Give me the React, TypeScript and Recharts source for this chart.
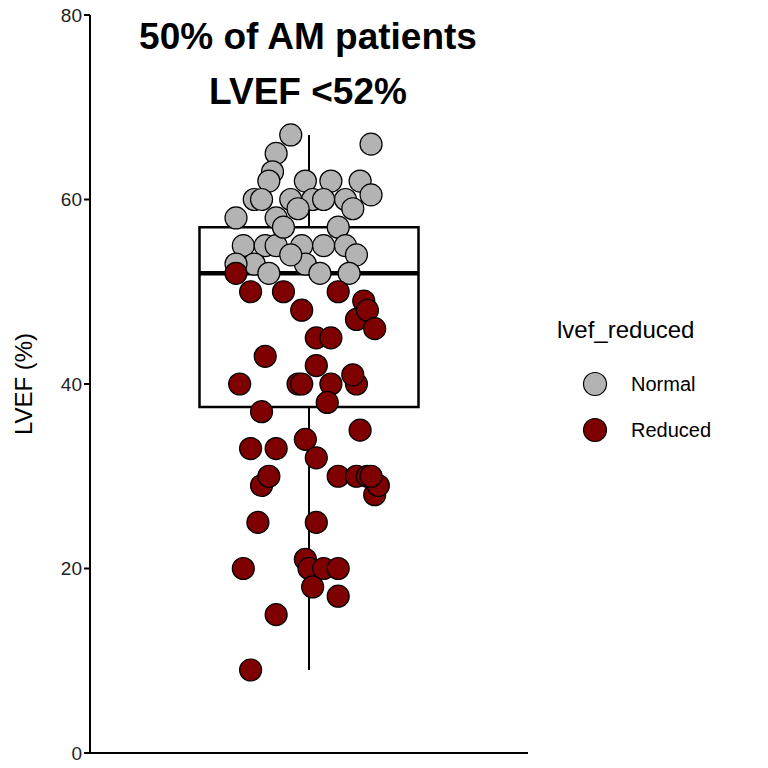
import React from "react";
import {
  ScatterChart,
  Scatter,
  XAxis,
  YAxis,
  ReferenceArea,
  ReferenceLine,
} from "recharts";

// jittered x positions (group centre = 1) and LVEF values
const normalX = [0.95, 1.17, 0.91, 0.9, 0.99, 1.06, 1.14, 0.89, 0.85, 0.87, 0.95, 1.01, 1.1, 1.17, 0.97, 1.12, 1.04, 0.8, 0.91, 1.08, 0.82, 0.88, 0.91, 0.98, 1.04, 1.1, 0.85, 0.8, 0.99, 0.95, 1.13, 0.89, 1.03, 1.11, 0.93];
const normalY = [67, 66, 65, 63, 62, 62, 62, 62, 60, 60, 60, 60, 60, 60.5, 59, 59, 60, 58, 58, 57, 55, 55, 55, 55, 55, 55, 53, 53, 53, 54, 54, 52, 52, 52, 57];

const reducedX = [0.84, 0.91, 0.82, 0.86, 0.87, 0.89, 0.84, 0.91, 0.87, 0.81, 0.88, 0.99, 1.02, 1.02, 0.99, 1.0, 1.01, 1.04, 1.08, 1.08, 1.08, 1.13, 1.16, 1.18, 1.19, 1.17, 1.14, 1.13, 1.12, 1.06, 1.05, 1.02, 1.06, 1.02, 0.97, 0.98, 1.08, 1.15, 1.13, 1.16, 1.18, 0.98, 0.93, 0.84, 0.8];
const reducedY = [9, 15, 20, 25, 29, 30, 33, 33, 37, 40, 43, 34, 32, 25, 21, 20, 18, 20, 20, 17, 30, 30, 30, 28, 29, 30, 35, 40, 41, 40, 38, 45, 45, 42, 40, 40, 50, 49, 47, 48, 46, 48, 50, 50, 52];

const yTicks = [0, 20, 40, 60, 80];
const boxStats = { min: 9, q1: 37.5, median: 52, q3: 57, max: 67 };

const normalData = normalX.map((x, i) => ({ x, y: normalY[i] }));
const reducedData = reducedX.map((x, i) => ({ x, y: reducedY[i] }));

const COLORS = { Normal: "#b3b3b3", Reduced: "#7f0000" };
const font = "'Liberation Sans', Arial, sans-serif";

const Dot = (props: any) => {
  const { cx, cy, fill } = props;
  return <circle cx={cx} cy={cy} r={11} fill={fill} stroke="#000" strokeWidth={1.2} />;
};

export default function App() {
  return (
    <div style={{ position: "absolute", left: 0, top: 0, width: 768, height: 768, fontFamily: font, background: "#fff" }}>
      <ScatterChart width={768} height={768} margin={{ top: 15, right: 240, left: 28, bottom: 15 }}>
        <XAxis type="number" dataKey="x" domain={[0.4, 1.6]} tick={false} tickLine={false} axisLine={false} height={0} />
        <YAxis
          type="number"
          dataKey="y"
          domain={[0, 80]}
          ticks={yTicks}
          width={62}
          stroke="#000"
          strokeWidth={2}
          tickSize={6}
          tick={{ fontSize: 19, fill: "#222", fontFamily: font }}
        />
        <ReferenceLine y={0} stroke="#000" strokeWidth={2} />
        <ReferenceLine segment={[{ x: 1, y: boxStats.min }, { x: 1, y: boxStats.q1 }]} stroke="#000" strokeWidth={2} />
        <ReferenceLine segment={[{ x: 1, y: boxStats.q3 }, { x: 1, y: boxStats.max }]} stroke="#000" strokeWidth={2} />
        <ReferenceArea x1={0.7} x2={1.3} y1={boxStats.q1} y2={boxStats.q3} fill="#fff" fillOpacity={1} stroke="#000" strokeWidth={2.5} />
        <ReferenceLine segment={[{ x: 0.7, y: boxStats.median }, { x: 1.3, y: boxStats.median }]} stroke="#000" strokeWidth={4.5} />
        <Scatter data={normalData} fill={COLORS.Normal} shape={<Dot />} isAnimationActive={false} />
        <Scatter data={reducedData} fill={COLORS.Reduced} shape={<Dot />} isAnimationActive={false} />
      </ScatterChart>
      <div style={{ position: "absolute", left: 88, top: 9, width: 440, textAlign: "center", fontWeight: "bold", fontSize: 37, lineHeight: "55px" }}>
        50% of AM patients<br />LVEF &lt;52%
      </div>
      <div style={{ position: "absolute", left: 24, top: 384, transform: "translate(-50%,-50%) rotate(-90deg)", fontSize: 24, whiteSpace: "nowrap" }}>
        LVEF (%)
      </div>
      <div style={{ position: "absolute", left: 557, top: 316, fontSize: 24 }}>lvef_reduced</div>
      {(["Normal", "Reduced"] as const).map((k, i) => (
        <div key={k} style={{ position: "absolute", left: 580, top: 369 + i * 46, display: "flex", alignItems: "center" }}>
          <svg width={30} height={30}>
            <circle cx={15} cy={15} r={11.5} fill={COLORS[k]} stroke="#000" strokeWidth={1.2} />
          </svg>
          <span style={{ marginLeft: 21, fontSize: 20 }}>{k}</span>
        </div>
      ))}
    </div>
  );
}
